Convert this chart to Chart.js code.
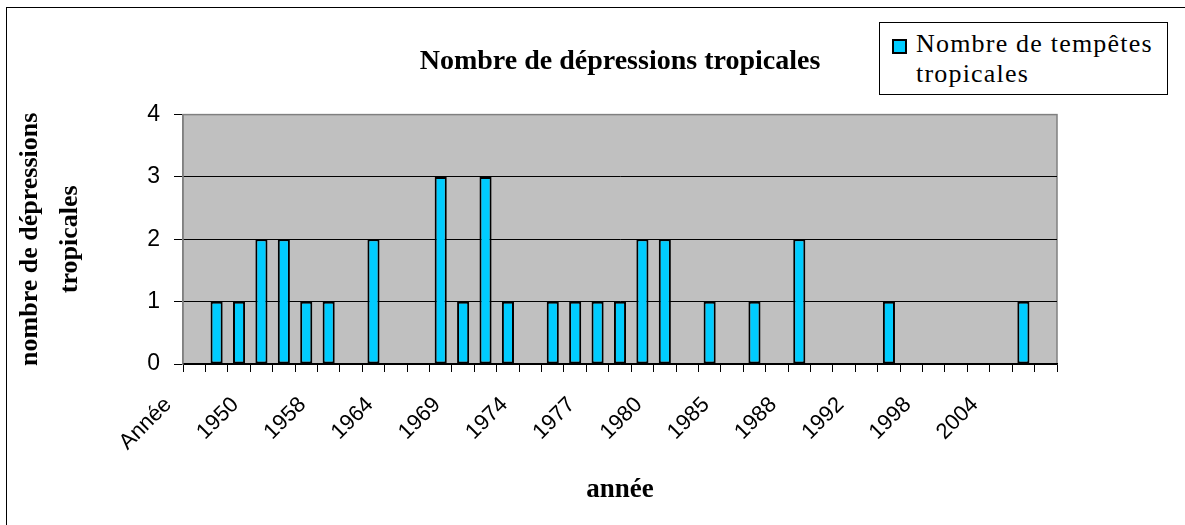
<!DOCTYPE html>
<html>
<head>
<meta charset="utf-8">
<script src="https://cdn.jsdelivr.net/npm/chart.js@4.4.0/dist/chart.umd.min.js"></script>
<style>
  html, body { margin: 0; padding: 0; background: #fff; }
  #wrap { position: relative; width: 1185px; height: 525px; overflow: hidden; }
  #frame {
    position: absolute; left: 6px; top: 7px; right: -10px; bottom: -10px;
    border-left: 1px solid #000; border-top: 1px solid #000; pointer-events: none;
  }
  #legend {
    position: absolute; left: 879px; top: 22px; width: 287px; height: 71px;
    border: 1px solid #000; background: #fff; color: #000;
    font-family: 'Liberation Serif', serif; font-size: 26px; letter-spacing: 1.2px; line-height: 30px;
  }
  #legend .swatch {
    position: absolute; left: 12px; top: 16px; width: 11px; height: 11px;
    background: #00ccff; border: 2px solid #000;
  }
  #legend .text { position: absolute; left: 36px; top: 6px; }
</style>
</head>
<body>
<div id="wrap">
  <canvas id="chart" width="1185" height="525"></canvas>
  <div id="frame"></div>
  <div id="legend"><span class="swatch"></span><div class="text">Nombre de tempêtes<br>tropicales</div></div>
</div>
<script>
// valeurs (une catégorie par barre possible)
const tickLabels = ['Année', '1950', '1958', '1964', '1969', '1974', '1977', '1980', '1985', '1988', '1992', '1998', '2004'];
const stormCounts = [0, 1, 1, 2, 2, 1, 1, 0, 2, 0, 0, 3, 1, 3, 1, 0, 1, 1, 1, 1, 2, 2, 0, 1, 0, 1, 0, 2, 0, 0, 0, 1, 0, 0, 0, 0, 0, 1, 0];
const yTicks = [0, 1, 2, 3, 4];

// une étiquette visible toutes les 3 catégories
const categories = stormCounts.map((_, i) => (i % 3 === 0 ? tickLabels[i / 3] : ''));

const serif = "'Liberation Serif', 'Times New Roman', serif";
const sans = "'Liberation Sans', Arial, sans-serif";

// fond gris de la zone de tracé
const plotBackground = {
    id: 'plotBackground',
    beforeDraw(chart) {
        const { ctx, chartArea: a } = chart;
        ctx.save();
        ctx.fillStyle = '#c0c0c0';
        ctx.fillRect(a.left, a.top, a.right - a.left, a.bottom - a.top);
        ctx.strokeStyle = '#808080';
        ctx.lineWidth = 1.5;
        ctx.strokeRect(a.left, a.top, a.right - a.left, a.bottom - a.top);
        ctx.restore();
    }
};

new Chart(document.getElementById('chart'), {
    type: 'bar',
    data: {
        labels: categories,
        datasets: [{
            label: 'Nombre de tempêtes tropicales',
            data: stormCounts,
            backgroundColor: '#00ccff',
            borderColor: '#000',
            borderWidth: 2,
            borderSkipped: false,
            barPercentage: 0.54,
            categoryPercentage: 1
        }]
    },
    options: {
        responsive: false,
        animation: false,
        layout: { padding: { left: 8, right: 128, top: 0, bottom: 0 } },
        plugins: {
            legend: { display: false },
            tooltip: { enabled: false },
            title: {
                display: true,
                text: 'Nombre de dépressions tropicales',
                fullSize: false,
                color: '#000',
                font: { family: serif, size: 28, weight: 'bold', lineHeight: 1.2 },
                padding: { top: 45, bottom: 36 }
            }
        },
        scales: {
            x: {
                grid: {
                    display: true,
                    drawOnChartArea: false,
                    drawTicks: true,
                    tickLength: 8,
                    tickColor: '#000',
                    offset: true
                },
                border: { display: true, color: '#000', width: 1.5 },
                ticks: {
                    autoSkip: false,
                    maxRotation: 45,
                    minRotation: 45,
                    color: '#000',
                    font: { family: sans, size: 22 },
                    padding: 20,
                    labelOffset: -26
                },
                title: {
                    display: true,
                    text: 'année',
                    color: '#000',
                    font: { family: serif, size: 27, weight: 'bold', lineHeight: 1.2 },
                    padding: { top: 0, bottom: 19 }
                },
                afterFit(scale) { scale.height = 161; }
            },
            y: {
                min: 0,
                max: 4,
                afterBuildTicks(scale) { scale.ticks = yTicks.map(v => ({ value: v })); },
                grid: {
                    color: ctx => (ctx.tick && ctx.tick.value === 4 ? 'rgba(0,0,0,0)' : '#000'),
                    tickColor: '#000',
                    tickLength: 9,
                    lineWidth: 1
                },
                border: { display: true, color: '#808080', width: 1.5 },
                ticks: {
                    color: '#000',
                    font: { family: sans, size: 23 },
                    padding: 14
                },
                title: {
                    display: true,
                    text: ['nombre de dépressions', 'tropicales'],
                    color: '#000',
                    font: { family: serif, size: 26, weight: 'bold', lineHeight: 1.54 },
                    padding: { top: 2, bottom: 0 }
                },
                afterFit(scale) { scale.width = 175; }
            }
        }
    },
    plugins: [plotBackground]
});
</script>
</body>
</html>
